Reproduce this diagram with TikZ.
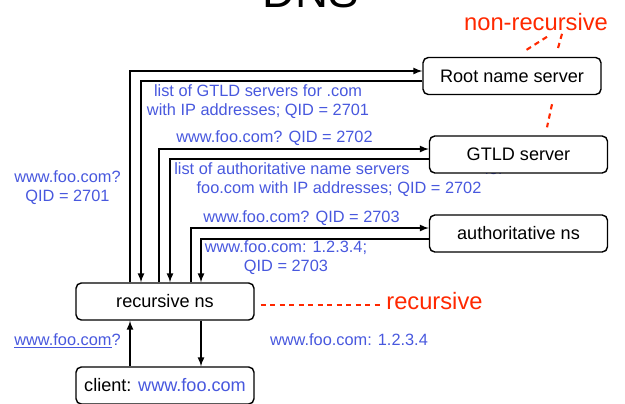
\documentclass[tikz,border=0pt]{standalone}
\usepackage{fontspec}
\setmainfont{Liberation Sans}
\usetikzlibrary{calc}
\definecolor{qblue}{RGB}{72,88,222}
\definecolor{hotred}{RGB}{255,40,0}
\tikzset{
  srv/.style={draw, line width=0.8pt, rounded corners=3pt, fill=white,
    minimum width=3.56cm, minimum height=0.74cm, font=\fontsize{10.3}{12}\selectfont},
  msg/.style={text=qblue, inner sep=0pt, align=center, font=\fontsize{9.3}{10.8}\selectfont},
  arr/.style={-latex, line width=0.75pt},
  rdash/.style={hotred, line width=1.2pt, dash pattern=on 3pt off 2.4pt},
  note/.style={text=hotred, inner sep=0pt, font=\fontsize{13.5}{15}\selectfont}
}

\begin{document}
\begin{tikzpicture}[x=0.02cm, y=-0.02cm]
        \useasboundingbox (0,0) rectangle (625,403);

        % Titulo (cortado arriba)
        \node[anchor=base, font=\fontsize{26}{30}\selectfont] (title) at (311,7) {DNS};

        % Mensajes
        \node[msg] (gtldlist) at (258,101.5) {list of GTLD servers for .com\\with IP addresses; QID = 2701};
        \node[msg] (askgtld) at (274.5,138) {www.foo.com? QID = 2702};
        \node[msg] (authlist) at (339,180) {list of authoritative name servers\hspace*{4.6em}for\\foo.com with IP addresses; QID = 2702};
        \node[msg] (askauth) at (301.5,218) {www.foo.com? QID = 2703};
        \node[msg] (answer) at (286,257.5) {www.foo.com: 1.2.3.4;\\QID = 2703};
        \node[msg] (askroot) at (67.5,187.5) {www.foo.com?\\QID = 2701};
        \node[msg] (clientq) at (67.5,341) {\underline{www.foo.com}?};
        \node[msg] (clienta) at (349,340) {www.foo.com: 1.2.3.4};

        % Servidores
        \node[srv] (root) at (512,76) {Root name server};
        \node[srv] (gtld) at (518.5,154.5) {GTLD server};
        \node[srv] (auth) at (518.5,233.5) {authoritative ns};
        \node[srv] (rec) at (165,301.5) {recursive ns};
        \node[srv] (client) at (165,385.5) {client: \textcolor{qblue}{www.foo.com}};

        % Canales de ida y vuelta
        \coordinate (q1) at (130,71);
        \coordinate (a1) at (141,81);
        \coordinate (q2) at (159,149);
        \coordinate (a2) at (170,159);
        \coordinate (q3) at (191,228);
        \coordinate (a3) at (201,239);

        \draw [arr] (rec.north -| q1) |- (root.west |- q1);
        \draw [arr] (root.west |- a1) -| (rec.north -| a1);
        \draw [arr] (rec.north -| q2) |- (gtld.west |- q2);
        \draw [arr] (gtld.west |- a2) -| (rec.north -| a2);
        \draw [arr] (rec.north -| q3) |- (auth.west |- q3);
        \draw [arr] (auth.west |- a3) -| (rec.north -| a3);

        % Cliente
        \draw [arr] (client.north -| q1) -- (rec.south -| q1);
        \draw [arr] (rec.south -| a3) -- (client.north -| a3);

        % Notas en rojo
        \node[note, anchor=west] (recnote) at (386,301.5) {recursive};
        \node[note] (nonrec) at (536,22) {non-recursive};
        \draw [rdash] ($(rec.east)+(6,3.5)$) -- ($(rec.east)+(128,3.5)$);
        \draw [rdash] ($(root.north)+(35,-20)$) -- ($(root.north)+(13,-6)$);
        \draw [rdash] ($(root.north)+(50,-23)$) -- ($(root.north)+(45,-5)$);
        \draw [rdash] ($(root.south)+(40,9)$) -- ($(gtld.north)+(28.5,-8)$);
    \end{tikzpicture}
\end{document}
